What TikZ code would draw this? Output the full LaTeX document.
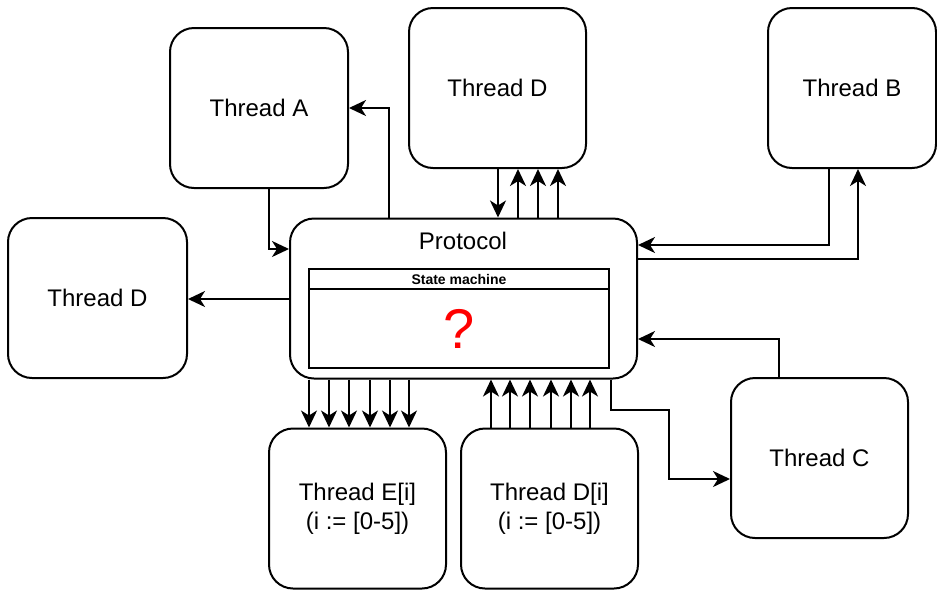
\documentclass[tikz,border=0pt]{standalone}
\usepackage{fontspec}
\setmainfont{Liberation Sans}
\usetikzlibrary{arrows.meta,calc}
\begin{document}
\begin{tikzpicture}[x=1pt,y=-1pt,
  thread/.style={draw, line width=2pt, rounded corners=24pt,
    minimum width=177pt, minimum height=160pt, inner sep=0pt,
    align=center, font=\fontsize{24}{29}\selectfont},
  link/.style={line width=2pt, -{Stealth[length=17pt,width=16pt,inset=5pt]}},
  plain/.style={line width=2pt}]
\useasboundingbox (0,0) rectangle (937,590);

% thread boxes
\node[thread, minimum width=178pt] (ta) at (259,108) {Thread A};
\node[thread] (td) at (497.5,88) {Thread D};
\node[thread, minimum width=168pt] (tb) at (852,88) {Thread B};
\node[thread, minimum width=179pt] (tdl) at (97.5,298) {Thread D};
\node[thread] (te) at (357.5,508.5) {Thread E[i]\\(i := [0-5])};
\node[thread] (tdi) at (549.5,508.5) {Thread D[i]\\(i := [0-5])};
\node[thread] (tc) at (819.5,458) {Thread C};

% protocol with its state machine
\node[thread, minimum width=347pt] (pr) at (463.5,298.5) {};
\node[font=\fontsize{24}{29}\selectfont, inner sep=0pt] (prt) at (463,241) {Protocol};
\node[draw, line width=1.7pt, minimum width=300pt, minimum height=99pt, inner sep=0pt] (sm) at (459,318.5) {};
\draw[line width=1.7pt] (sm.west |- 0,289) -- (sm.east |- 0,289);
\node[font=\bfseries\fontsize{14}{16}\selectfont, inner sep=0pt] (smt) at (459,279) {State machine};
\node[text=red, font=\fontsize{56}{60}\selectfont, inner sep=0pt] (q) at (459,329) {?};

% Thread A
\draw[link] (pr.north -| 389,0) |- (ta.east);
\draw[link] (ta.south -| 269,0) |- (pr.west |- 0,249);

% Thread D (top)
\draw[link] (td.south -| 498,0) -- (pr.north -| 498,0);
\foreach \x in {518,538,558}
  \draw[link] (pr.north -| \x,0) -- (td.south -| \x,0);

% Thread B
\draw[link] (tb.south -| 829,0) |- (pr.east |- 0,245);
\draw[link] (pr.east |- 0,259) -| (tb.south -| 858,0);

% Thread D (left)
\draw[link] (pr.west |- 0,299) -- (tdl.east |- 0,299);

% Thread E[i]
\foreach \x in {309,329,349,370,390,409}
  \draw[link] (pr.south -| \x,0) -- (te.north -| \x,0);

% Thread D[i]
\foreach \x in {491,510,530,551,571,590}
  \draw[link] (tdi.north -| \x,0) -- (pr.south -| \x,0);

% Thread C
\draw[link] (pr.south -| 611,0) -- ++(0,30) -- ++(58,0) |- (tc.west |- 0,479);
\draw[link] (tc.north -| 779,0) |- (pr.east |- 0,339);
\end{tikzpicture}
\end{document}
